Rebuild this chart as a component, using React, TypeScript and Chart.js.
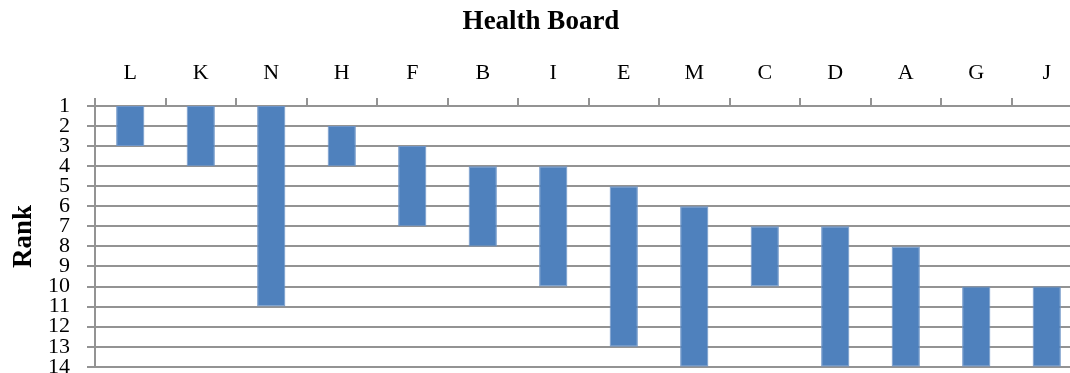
import React, { useEffect, useRef } from "react";
import { Chart, registerables } from "chart.js";

Chart.register(...registerables);

const boards = ["L", "K", "N", "H", "F", "B", "I", "E", "M", "C", "D", "A", "G", "J"];
const bestRank = [1, 1, 1, 2, 3, 4, 4, 5, 6, 7, 7, 8, 10, 10];
const worstRank = [3, 4, 11, 4, 7, 8, 10, 13, 14, 10, 14, 14, 14, 14];
const rankMin = 1;
const rankMax = 14;

const FONT = "'Liberation Serif', 'DejaVu Serif', serif";
const GRID = "#939393";

export default function App() {
  const ref = useRef<HTMLCanvasElement | null>(null);

  useEffect(() => {
    if (!ref.current) return;
    const chart = new Chart(ref.current, {
      type: "bar",
      data: {
        labels: boards,
        datasets: [
          {
            label: "Rank range",
            data: boards.map((_, i) => [bestRank[i], worstRank[i]] as [number, number]),
            backgroundColor: "#4F81BD",
            borderColor: "#6F95C8",
            borderWidth: 1,
            borderSkipped: false,
            barPercentage: 0.4,
            categoryPercentage: 1,
          },
        ],
      },
      options: {
        animation: false,
        responsive: false,
        devicePixelRatio: 1,
        layout: { padding: { left: 0, right: 3, top: 0, bottom: 0 } },
        plugins: {
          legend: { display: false },
          tooltip: { enabled: false },
          title: {
            display: true,
            text: "Health Board",
            color: "#000",
            font: { family: FONT, size: 27, weight: "bold", lineHeight: 1.2 },
            padding: { top: 6, bottom: 0 },
          },
        },
        scales: {
          x: {
            position: "top",
            offset: true,
            grid: {
              offset: true,
              drawOnChartArea: false,
              drawTicks: true,
              tickLength: 8,
              color: GRID,
              lineWidth: 2,
            },
            border: { display: true, color: GRID, width: 2 },
            ticks: {
              color: "#000",
              font: { family: FONT, size: 22 },
              padding: 12,
              maxRotation: 0,
              autoSkip: false,
            },
            afterFit: (scale: any) => {
              scale.height = 106 - 6 - 27 * 1.2;
            },
          },
          y: {
            reverse: true,
            min: rankMin,
            max: rankMax,
            grid: {
              color: GRID,
              lineWidth: 2,
              drawTicks: true,
              tickLength: 8,
            },
            border: { display: true, color: GRID, width: 2 },
            ticks: {
              stepSize: 1,
              autoSkip: false,
              color: "#000",
              font: { family: FONT, size: 22 },
              padding: 17,
            },
            title: {
              display: true,
              text: "Rank",
              color: "#000",
              font: { family: FONT, size: 27, weight: "bold" },
              padding: { top: 8, bottom: 0 },
            },
            afterFit: (scale: any) => {
              scale.width = 95;
            },
          },
        },
      },
    });
    return () => chart.destroy();
  }, []);

  return (
    <div
      style={{
        position: "fixed",
        left: 0,
        top: 0,
        width: 1070,
        height: 373,
        overflow: "hidden",
        background: "#fff",
      }}
    >
      <canvas ref={ref} width={1085} height={397} style={{ display: "block" }} />
    </div>
  );
}
